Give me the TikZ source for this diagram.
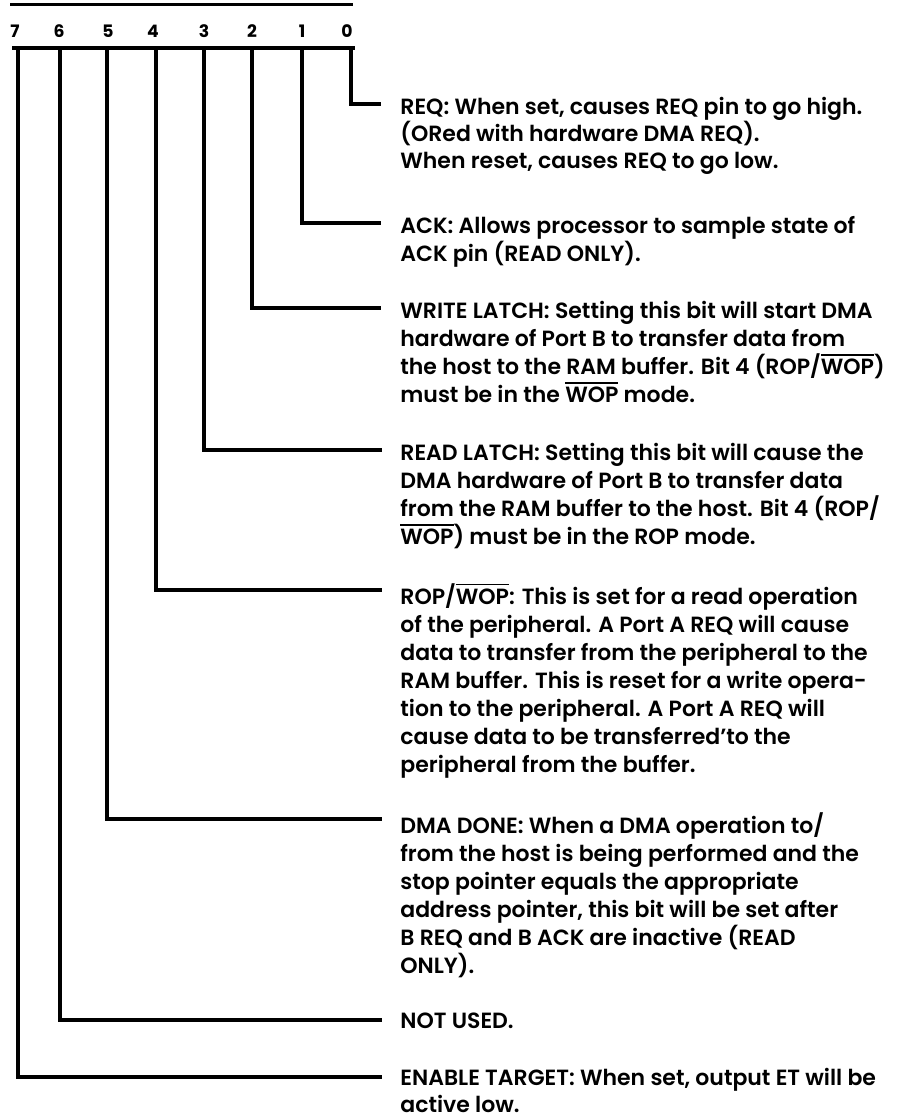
\documentclass[tikz,border=0pt]{standalone}
\usepackage{fontspec}
\setmainfont{Poppins}[UprightFont={* SemiBold},BoldFont={* Bold}]
\newcommand\myovl[1]{\setbox0\hbox{#1}\rlap{\rule[\dimexpr\ht0+1.6pt\relax]{\wd0}{0.9pt}}\box0\relax}
\newcommand\mynoskip{\lineskiplimit -20pt\relax}
\begin{document}
\begin{tikzpicture}[x=0.5pt,y=-0.5pt,
  bus/.style={line width=1.75pt},
  bitnum/.style={font=\fontsize{8.6}{8.6}\selectfont\bfseries, inner sep=0},
  desc/.style={anchor=north west, inner sep=0, align=left, font=\fontsize{11}{14}\selectfont\mynoskip},
  tightdesc/.style={font=\fontsize{11}{13.5}\selectfont\mynoskip}]
\useasboundingbox (0,0) rectangle (903,1119);
% top rule
\coordinate (tl) at (10,4);
\coordinate (tr) at (353,4);
\draw[line width=1.5pt] (tl) -- (tr);
% bit numbers
\node[bitnum] (d7) at (15,31) {7};
\node[bitnum] (d6) at (59,31) {6};
\node[bitnum] (d5) at (108,31) {5};
\node[bitnum] (d4) at (153,31) {4};
\node[bitnum] (d3) at (204,31) {3};
\node[bitnum] (d2) at (252,31) {2};
\node[bitnum] (d1) at (302,31) {1};
\node[bitnum] (d0) at (347,31) {0};
% bus rule
\coordinate (bl) at (12,48);
\coordinate (br) at (355,48);
\draw[bus] (bl) -- (br);
\coordinate (b0) at (351,48);
\coordinate (b1) at (302,48);
\coordinate (b2) at (252,48);
\coordinate (b3) at (204,48);
\coordinate (b4) at (156,48);
\coordinate (b5) at (107,48);
\coordinate (b6) at (60,48);
\coordinate (b7) at (18,48);
\coordinate (e0) at (381,104);
\coordinate (e1) at (381,223);
\coordinate (e2) at (381,308);
\coordinate (e3) at (382,450);
\coordinate (e4) at (382,590);
\coordinate (e5) at (382,819);
\coordinate (e6) at (382,1020);
\coordinate (e7) at (382,1077);
\foreach \i in {0,...,7} {\draw[bus] (b\i) |- (e\i);}
% descriptions
\node[desc,tightdesc] (t0) at (400,97) {REQ: When set, causes REQ pin to go high.\\(ORed with hardware DMA REQ).\\When reset, causes REQ to go low.};
\node[desc] (t1) at (400,216) {ACK: Allows processor to sample state of\\ACK pin (READ ONLY).};
\node[desc] (t2) at (400,301) {WRITE LATCH: Setting this bit will start DMA\\hardware of Port B to transfer data from\\the host to the RAM buffer. Bit 4 (ROP/\myovl{WOP})\\must be in the \myovl{WOP} mode.};
\node[desc] (t3) at (400,443) {READ LATCH: Setting this bit will cause the\\DMA hardware of Port B to transfer data\\from the RAM buffer to the host. Bit 4 (ROP/\\\myovl{WOP}) must be in the ROP mode.};
\node[desc] (t4) at (400,583) {ROP/\myovl{WOP}: This is set for a read operation\\of the peripheral. A Port A REQ will cause\\data to transfer from the peripheral to the\\RAM buffer. This is reset for a write opera-\\tion to the peripheral. A Port A REQ will\\cause data to be transferred’to the\\peripheral from the buffer.};
\node[desc] (t5) at (400,812) {DMA DONE: When a DMA operation to/\\from the host is being performed and the\\stop pointer equals the appropriate\\address pointer, this bit will be set after\\B REQ and B ACK are inactive (READ\\ONLY).};
\node[desc] (t6) at (400,1013) {NOT USED.};
\node[desc,tightdesc] (t7) at (400,1068) {ENABLE TARGET: When set, output ET will be\\active low.};
\end{tikzpicture}
\end{document}
